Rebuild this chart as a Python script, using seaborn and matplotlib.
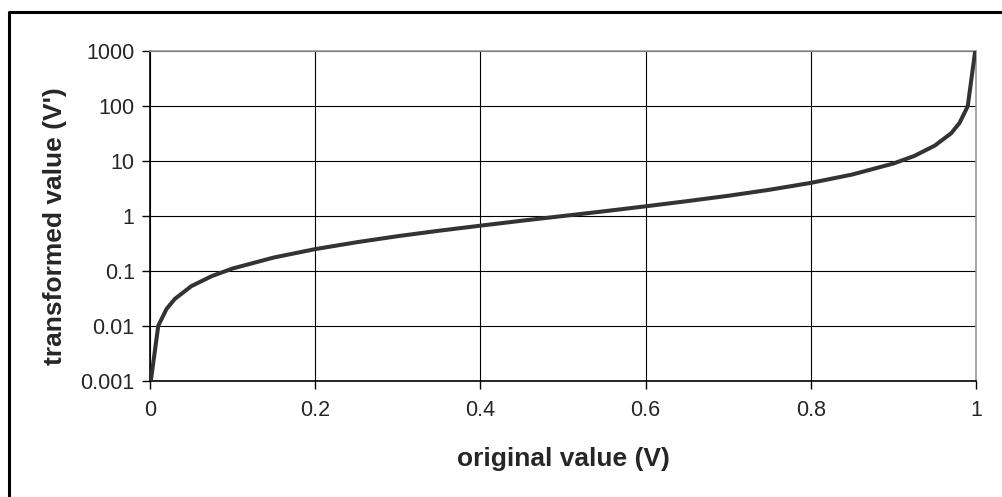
import matplotlib
matplotlib.use("Agg")
import matplotlib.pyplot as plt
import seaborn as sns
import pandas as pd
from matplotlib.lines import Line2D

# Data
original = [0.001, 0.01, 0.02, 0.03, 0.05, 0.075, 0.1, 0.15, 0.2, 0.25, 0.3, 0.35,
            0.4, 0.45, 0.5, 0.55, 0.6, 0.65, 0.7, 0.75, 0.8, 0.85, 0.9, 0.925,
            0.95, 0.97, 0.98, 0.99, 0.999]
transformed = [0.001, 0.0101, 0.0204, 0.031, 0.053, 0.081, 0.111, 0.176, 0.25, 0.333,
               0.43, 0.54, 0.667, 0.82, 1.0, 1.22, 1.5, 1.86, 2.33, 3.0, 4.0, 5.67,
               9.0, 12.3, 19.0, 32.0, 49.0, 99.0, 999.0]
x_ticks = [0, 0.2, 0.4, 0.6, 0.8, 1]
x_labels = ["0", "0.2", "0.4", "0.6", "0.8", "1"]
y_ticks = [0.001, 0.01, 0.1, 1, 10, 100, 1000]
y_labels = ["0.001", "0.01", "0.1", "1", "10", "100", "1000"]

sns.set_style("white")
plt.rcParams["font.family"] = ["Liberation Sans", "DejaVu Sans"]

df = pd.DataFrame({"original value (V)": original, "transformed value (V')": transformed})

W, H = 1002, 497
fig = plt.figure(figsize=(W / 100, H / 100), dpi=100)
ax = fig.add_axes([150 / W, (H - 381) / H, (976 - 150) / W, (381 - 51) / H])

sns.lineplot(data=df, x="original value (V)", y="transformed value (V')", ax=ax,
             color="#333333", linewidth=2.9, zorder=3)

ax.set_yscale("log")
ax.set_xlim(0, 1)
ax.set_ylim(0.001, 1000)
ax.set_xticks(x_ticks)
ax.set_xticklabels(x_labels)
ax.set_yticks(y_ticks)
ax.set_yticklabels(y_labels)
ax.minorticks_off()
ax.tick_params(axis="both", which="major", direction="out", length=6, width=1,
               color="black", labelsize=15.5, left=True, bottom=True)
ax.tick_params(axis="x", pad=8)
ax.tick_params(axis="y", pad=5)

ax.grid(True, which="major", color="black", linewidth=0.8)
ax.set_axisbelow(True)
for s in ["left", "bottom"]:
    ax.spines[s].set_color("black")
    ax.spines[s].set_linewidth(1.2)
for s in ["top", "right"]:
    ax.spines[s].set_color("#999999")
    ax.spines[s].set_linewidth(1.2)

ax.set_xlabel("original value (V)", fontsize=19, fontweight="bold", va="center")
ax.xaxis.set_label_coords(0.5, (381 - 459) / 330)
ax.set_ylabel("transformed value (V')", fontsize=19, fontweight="bold", va="center")
ax.yaxis.set_label_coords((55 - 150) / 826, (381 - 226) / 330)

# outer chart frame (left and top edges visible)
fx = 9 / W
fy = 1 - 12 / H
fig.add_artist(Line2D([fx, fx, 1.0], [0.0, fy, fy], transform=fig.transFigure,
                      color="black", linewidth=2.2))

fig.savefig("out.png", dpi=100)
